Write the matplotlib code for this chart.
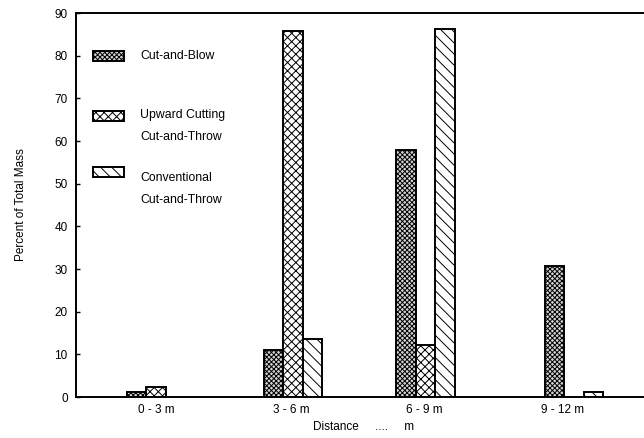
import matplotlib
matplotlib.use("Agg")
import matplotlib.pyplot as plt
from matplotlib.patches import Rectangle
import numpy as np

plt.rcParams["font.family"] = ["Liberation Sans", "DejaVu Sans"]
plt.rcParams["hatch.linewidth"] = 0.7

# data (percent of total mass)
categories = ["0 - 3 m", "3 - 6 m", "6 - 9 m", "9 - 12 m"]
series_names = ["Cut-and-Blow", "Upward Cutting\nCut-and-Throw", "Conventional\nCut-and-Throw"]
cut_and_blow = [1.2, 11.1, 58.0, 30.6]
upward_cut_throw = [2.4, 85.7, 12.2, 0.0]
conventional_cut_throw = [0.0, 13.6, 86.2, 1.2]

# layout: slightly uneven group spacing as in the original figure
group_pos = [0.0, 0.986, 1.936, 3.0]
label_pos = [0.0, 0.97, 1.93, 2.92]
w = 0.14

fig = plt.figure(figsize=(6.44, 4.38), dpi=100)
ax = fig.add_axes([76 / 644, 41 / 438, 1.01 - 76 / 644, (397 - 13) / 438])

styles = [
    dict(facecolor="#d4d4d4", hatch="xxxxxxx"),
    dict(facecolor="white", hatch="xxxx"),
    dict(facecolor="white", hatch="\\\\\\"),
]
series = [cut_and_blow, upward_cut_throw, conventional_cut_throw]
x = np.array(group_pos)
for i, (vals, st) in enumerate(zip(series, styles)):
    for xi, v in zip(x + (i - 1) * w, vals):
        if v <= 0:
            continue
        ax.bar(xi, v, width=w, edgecolor="black", linewidth=1.4, **st)

ax.set_xlim(-0.573, 3.55)
ax.set_ylim(0, 90)
ax.set_yticks(np.arange(0, 91, 10))
ax.tick_params(axis="y", direction="in", length=3, width=1, labelsize=8.5, pad=6)
ax.set_xticks(label_pos)
ax.set_xticklabels(categories)
ax.tick_params(axis="x", length=0, labelsize=8.5, pad=5)
ax.spines["right"].set_visible(False)
for s in ["left", "top", "bottom"]:
    ax.spines[s].set_linewidth(1.4)

ax.set_ylabel("Percent of Total Mass", fontsize=8.5, labelpad=20)
ax.set_xlabel("Distance     ....     m", fontsize=8.5, labelpad=4)

# hand-drawn style legend
leg_y = [56, 116, 172]
text_y = [56, 126, 189]
for name, st, py, ty in zip(series_names, styles, leg_y, text_y):
    fx, fy = fig.transFigure.inverted().transform((93, 438 - py))
    fw, fh = 31 / 644, 10 / 438
    fig.patches.append(Rectangle((fx, fy - fh / 2), fw, fh, transform=fig.transFigure,
                                 edgecolor="black", linewidth=1.4, **st))
    tx, tyy = fig.transFigure.inverted().transform((140, 438 - ty))
    fig.text(tx, tyy, name, fontsize=8.8, va="center", ha="left", linespacing=2.2)

fig.savefig("out.png", dpi=100)
